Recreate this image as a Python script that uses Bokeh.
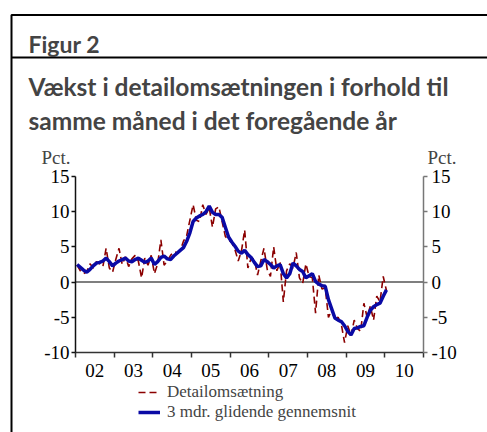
from bokeh.plotting import figure
from bokeh.models import (Range1d, FixedTicker, LinearAxis, Label, Legend, LegendItem)
from bokeh.embed import file_html
from bokeh.resources import INLINE

# ---------------- data (monthly, Jan 2002 - Jan 2010) ----------------
start_year = 2002
retail = [2.4, 1.6, 1.2, 1.5, 2.6, 2.0, 2.9, 2.6, 2.2, 4.8, 2.0, 1.4,
          3.2, 4.8, 2.5, 3.6, 2.2, 3.3, 3.8, 3.0, 0.6, 3.4, 2.4, 3.8,
          1.2, 2.6, 6.0, 2.4, 3.0, 3.8, 4.3, 4.2, 4.4, 5.8, 6.6, 8.8,
          11.0, 8.8, 8.6, 11.0, 9.6, 10.6, 7.8, 10.4, 10.7, 8.6, 6.5, 6.0,
          5.6, 4.6, 3.0, 4.4, 7.4, 2.0, 3.4, 3.2, 1.0, 3.0, 4.8, 1.8,
          0.8, 5.0, 1.6, 2.8, -2.8, 1.6, 2.6, 2.0, 4.2, 0.6, -0.2, 2.6,
          0.8, 0.6, -4.4, 1.0, -1.0, -0.8, -5.0, -4.0, -5.2, -5.0, -6.0, -8.6,
          -6.2, -7.6, -5.4, -6.6, -7.0, -3.0, -5.0, -3.4, -5.4, -2.0, -2.8, 0.8,
          -1.2]
moving_avg = [2.5, 2.1, 1.7, 1.4, 1.8, 2.3, 2.7, 2.8, 3.0, 3.4, 2.9, 2.3,
              2.7, 3.0, 3.2, 3.4, 3.0, 2.9, 3.2, 3.4, 3.1, 2.8, 3.0, 3.4,
              2.5, 2.9, 3.5, 3.7, 3.3, 3.2, 3.7, 4.1, 4.5, 4.9, 5.8, 7.0,
              8.6, 9.1, 9.4, 9.6, 10.0, 10.8, 9.9, 9.6, 9.6, 9.2, 7.8, 6.4,
              5.7, 5.1, 4.4, 4.1, 4.5, 3.9, 3.5, 2.8, 2.2, 2.3, 3.2, 2.9,
              2.5, 2.0, 2.3, 2.5, 1.2, 0.6, 1.2, 2.7, 2.3, 1.8, 1.5, 0.6,
              0.9, 1.2, 0.1, -0.3, -0.5, -0.6, -2.5, -3.8, -5.1, -5.4, -5.6, -6.2,
              -7.0, -7.5, -6.6, -6.5, -6.3, -6.2, -5.0, -4.0, -3.5, -3.2, -3.0, -2.0,
              -1.1]
year_ticks = [2002, 2003, 2004, 2005, 2006, 2007, 2008, 2009, 2010, 2011]
year_label_pos = [2002.5, 2003.5, 2004.5, 2005.5, 2006.5, 2007.5, 2008.5, 2009.5, 2010.5]
year_labels = ["02", "03", "04", "05", "06", "07", "08", "09", "10"]
y_ticks = [-10, -5, 0, 5, 10, 15]
y_labels = ["-10", "-5", "0", "5", "10", "15"]
series_names = ["Detailomsætning", "3 mdr. glidende gennemsnit"]
title_lines = ["Vækst i detailomsætningen i forhold til",
               "samme måned i det foregående år"]
fig_label = "Figur 2"
unit_label = "Pct."

months = [start_year + (i + 0.5) / 12.0 for i in range(len(retail))]

# ---------------- layout (pixels) ----------------
W, H = 487, 432
PX_L, PX_R, PX_T, PX_B = 75, 423, 176, 352      # plot area in canvas pixels
XMIN, XMAX = year_ticks[0], year_ticks[-1]
YMIN, YMAX = y_ticks[0], y_ticks[-1]
sx = (PX_R - PX_L) / (XMAX - XMIN)
sy = (PX_B - PX_T) / (YMAX - YMIN)
x_range = Range1d(XMIN - PX_L / sx, XMAX + (W - PX_R) / sx)
y_range = Range1d(YMIN - (H - PX_B) / sy, YMAX + PX_T / sy)


def X(px):
    return XMIN + (px - PX_L) / sx


def Y(py):
    return YMAX - (py - PX_T) / sy


SERIF = "Liberation Serif"
SANS = "Lato"

p = figure(width=W, height=H, x_range=x_range, y_range=y_range,
           x_axis_type=None, y_axis_type=None,
           output_backend="svg", toolbar_location=None, min_border=0)
p.grid.visible = False
p.outline_line_color = None
p.background_fill_color = "white"
p.border_fill_color = "white"

# box lines of the figure panel (top, left, and rule under "Figur 2")
p.line(x=[X(W + 5), X(11), X(11)], y=[Y(14.5), Y(14.5), Y(H + 5)],
       line_color="black", line_width=2)
p.line(x=[X(11), X(W + 5)], y=[Y(57), Y(57)], line_color="black", line_width=2)

# zero line across the plot area
p.segment(x0=[XMIN], y0=[0], x1=[XMAX], y1=[0], line_color="#555555", line_width=1.5)

red = p.line(months, retail, line_color="#8B0000", line_width=1.6, line_dash="7 4")
blue = p.line(months, moving_avg, line_color="#0A0AA5", line_width=3.5)

# bottom axis
xa = LinearAxis(fixed_location=YMIN, bounds=(XMIN, XMAX))
xa.ticker = FixedTicker(ticks=year_label_pos, minor_ticks=year_ticks)
xa.major_label_overrides = {pos: lab for pos, lab in zip(year_label_pos, year_labels)}
xa.major_tick_out = 0
xa.major_tick_in = 0
xa.major_tick_line_color = None
xa.minor_tick_out = 5
xa.minor_tick_in = 0
xa.minor_tick_line_color = "#333333"
xa.minor_tick_line_width = 1.5
xa.axis_line_color = "#333333"
xa.axis_line_width = 1.5
xa.major_label_text_font = SERIF
xa.major_label_text_font_size = "19px"
xa.major_label_text_color = "black"
xa.major_label_standoff = 6
p.add_layout(xa, "below")

y_over = {t: s for t, s in zip(y_ticks, y_labels)}


def make_y_axis(loc, color, standoff):
    ax = LinearAxis(fixed_location=loc, bounds=(YMIN, YMAX), ticker=FixedTicker(ticks=y_ticks))
    ax.major_label_overrides = y_over
    ax.minor_tick_line_color = None
    ax.major_tick_out = 4
    ax.major_tick_in = 0
    ax.major_tick_line_color = color
    ax.major_tick_line_width = 1.5
    ax.axis_line_color = color
    ax.axis_line_width = 1.5
    ax.major_label_text_font = SERIF
    ax.major_label_text_font_size = "19px"
    ax.major_label_text_color = "black"
    ax.major_label_standoff = standoff
    return ax


p.add_layout(make_y_axis(XMIN, "#111111", 2), "left")
p.add_layout(make_y_axis(XMAX, "#777777", 4), "right")

# unit labels
p.add_layout(Label(x=X(70), y=Y(157), text=unit_label, text_align="right",
                   text_baseline="alphabetic", text_font=SERIF, text_font_size="19px"))
p.add_layout(Label(x=X(427), y=Y(157), text=unit_label, text_align="left",
                   text_baseline="alphabetic", text_font=SERIF, text_font_size="19px"))

# heading
p.add_layout(Label(x=X(28), y=Y(43), text=fig_label, text_font=SANS, text_font_style="bold",
                   text_font_size="23px", text_baseline="alphabetic"))
p.add_layout(Label(x=X(28), y=Y(86), text=title_lines[0], text_font=SANS,
                   text_font_style="bold", text_font_size="24.5px", text_baseline="alphabetic"))
p.add_layout(Label(x=X(28), y=Y(120), text=title_lines[1], text_font=SANS,
                   text_font_style="bold", text_font_size="24.5px", text_baseline="alphabetic"))

# legend
legend = Legend(items=[LegendItem(label=series_names[0], renderers=[red]),
                       LegendItem(label=series_names[1], renderers=[blue])],
                location=(138, H - 422), glyph_width=22, glyph_height=18, label_height=18,
                label_standoff=7, spacing=0, padding=0, margin=0,
                border_line_color=None, background_fill_alpha=0,
                label_text_font=SERIF, label_text_font_size="17px")
p.add_layout(legend)

open("out.html", "w").write(file_html(p, INLINE))
